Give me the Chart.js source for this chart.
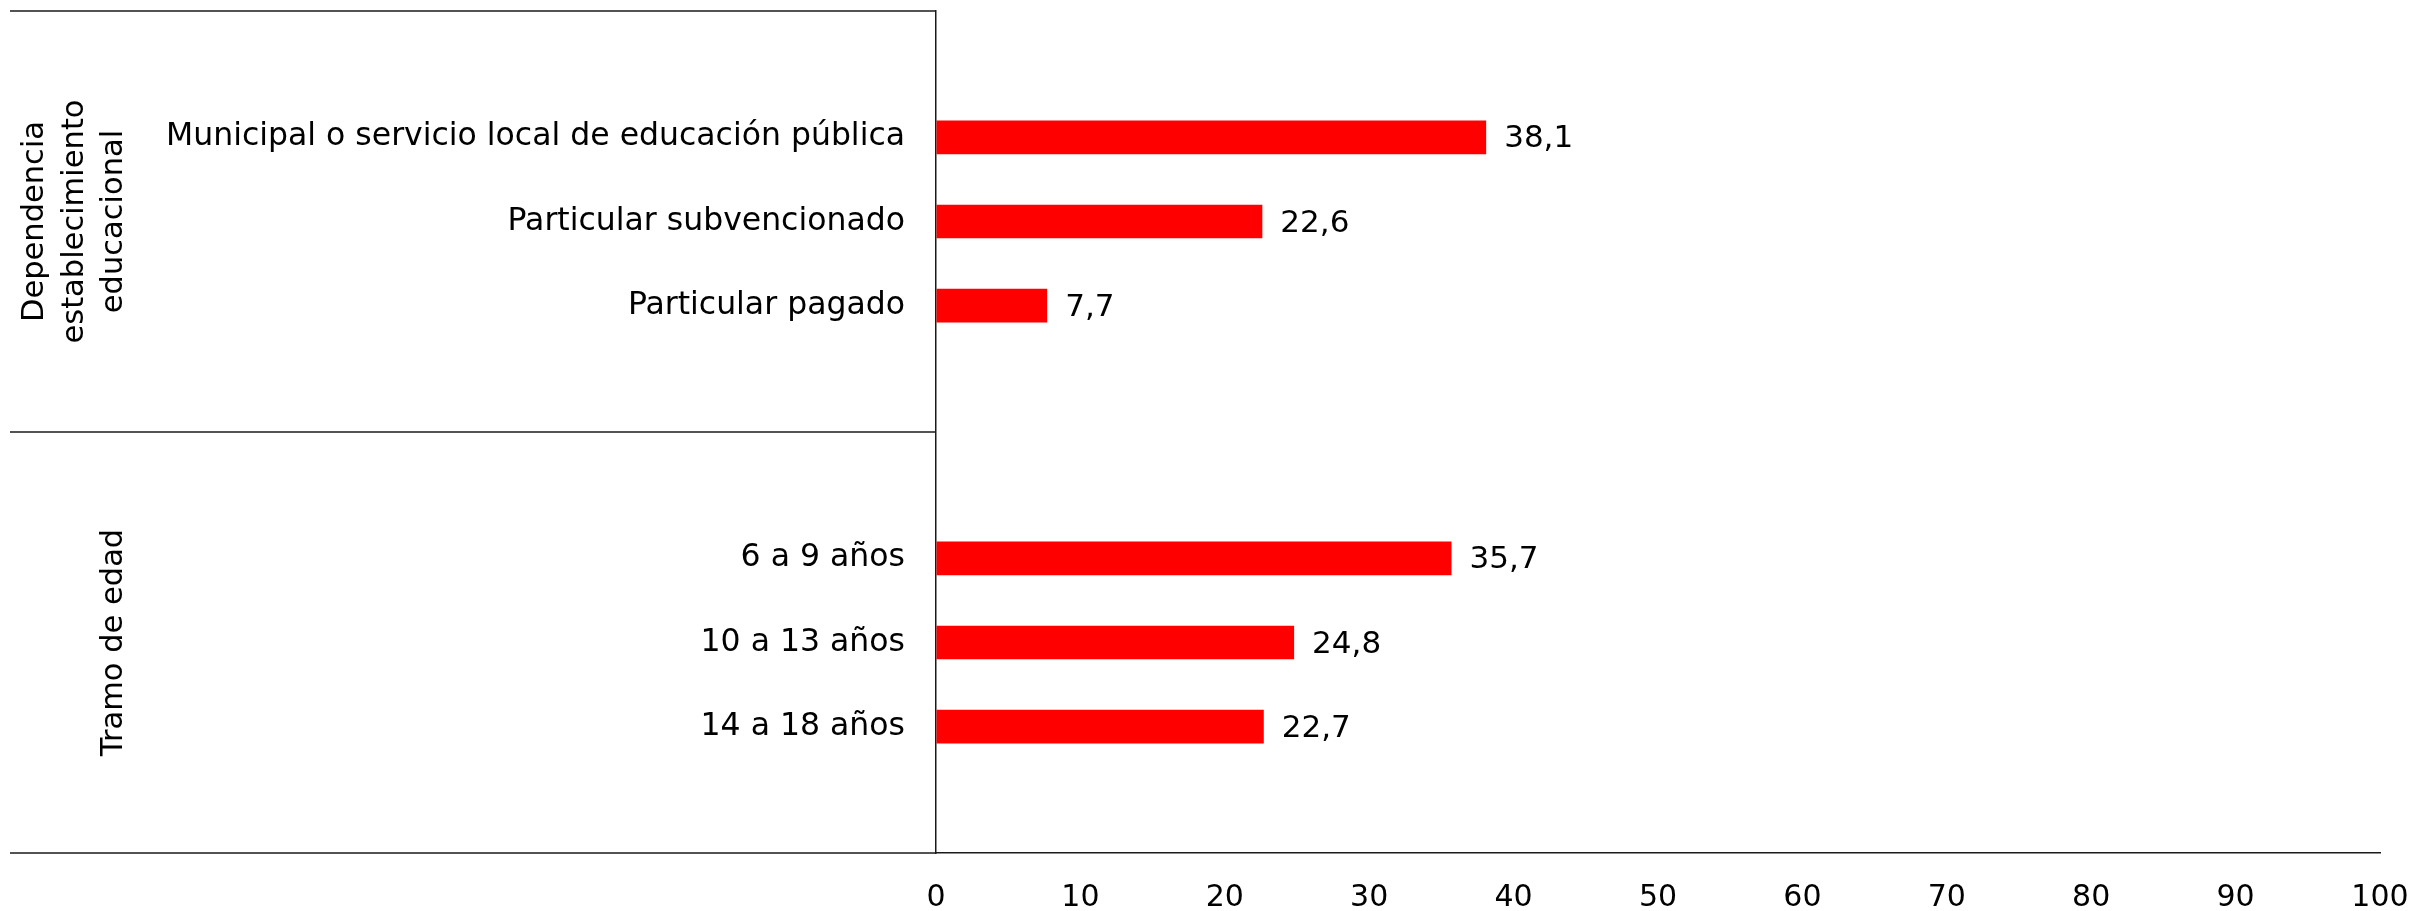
<!DOCTYPE html>
<html>
<head>
<meta charset="utf-8">
<script src="https://cdn.jsdelivr.net/npm/chart.js@4.4.1/dist/chart.umd.min.js"></script>
<style>
  html, body { margin: 0; padding: 0; background: #fff; }
  #wrap { width: 2417px; height: 911px; position: relative; }
</style>
</head>
<body>
<div id="wrap"><canvas id="chart"></canvas></div>
<script>
const groupTitles = [['Dependencia', 'establecimiento', 'educacional'], ['Tramo de edad']];
const dependencia = ['Municipal o servicio local de educación pública', 'Particular subvencionado', 'Particular pagado'];
const dependenciaValues = [38.1, 22.6, 7.7];
const tramos = ['6 a 9 años', '10 a 13 años', '14 a 18 años'];
const tramoValues = [35.7, 24.8, 22.7];
const xTicks = [0, 10, 20, 30, 40, 50, 60, 70, 80, 90, 100];

// every group gets an empty slot above and below its bars
const labels = ['', ...dependencia, '', '', ...tramos, ''];
const values = [null, ...dependenciaValues, null, null, ...tramoValues, null];

const FONT = '"DejaVu Sans", Verdana, sans-serif';
const LINE = '#1a1a1a';

const decor = {
  id: 'decor',
  afterDraw(chart) {
    const { ctx, chartArea, scales: { y } } = chart;
    const edges = [
      chartArea.top,
      (y.getPixelForValue(4) + y.getPixelForValue(5)) / 2,
      chartArea.bottom
    ];
    ctx.save();
    ctx.strokeStyle = LINE;
    ctx.lineWidth = 1.5;
    edges.forEach(e => {
      ctx.beginPath();
      ctx.moveTo(10, e);
      ctx.lineTo(chartArea.left, e);
      ctx.stroke();
    });

    // rotated group titles
    ctx.fillStyle = '#000';
    ctx.font = '30.5px ' + FONT;
    ctx.textAlign = 'center';
    ctx.textBaseline = 'alphabetic';
    groupTitles.forEach((lines, g) => {
      const mid = (edges[g] + edges[g + 1]) / 2;
      lines.forEach((line, i) => {
        const x = 122 - (lines.length - 1 - i) * 39.5;
        ctx.save();
        ctx.translate(x, mid);
        ctx.rotate(-Math.PI / 2);
        ctx.fillText(line, 0, 0);
        ctx.restore();
      });
    });

    // value labels
    ctx.font = '31px ' + FONT;
    ctx.textAlign = 'left';
    ctx.textBaseline = 'middle';
    chart.getDatasetMeta(0).data.forEach((bar, i) => {
      const v = values[i];
      if (v == null) return;
      ctx.fillText(v.toFixed(1).replace('.', ','), bar.x + 18, bar.y + 2);
    });
    ctx.restore();
  }
};

new Chart(document.getElementById('chart'), {
  type: 'bar',
  data: {
    labels: labels,
    datasets: [{
      data: values,
      backgroundColor: '#ff0000',
      borderWidth: 0,
      categoryPercentage: 1,
      barPercentage: 0.4
    }]
  },
  options: {
    indexAxis: 'y',
    responsive: true,
    maintainAspectRatio: false,
    animation: false,
    devicePixelRatio: 1,
    layout: { padding: { top: 11, right: 37, left: 0, bottom: 0 } },
    plugins: { legend: { display: false }, tooltip: { enabled: false } },
    scales: {
      x: {
        min: 0,
        max: 100,
        afterBuildTicks: (scale) => { scale.ticks = xTicks.map(v => ({ value: v })); },
        afterFit: (scale) => {
          scale.height = 58;
          scale.paddingLeft = 0;
          scale.paddingRight = 0;
        },
        ticks: {
          font: { family: FONT, size: 30 },
          color: '#000',
          padding: 27,
          maxRotation: 0,
          autoSkip: false
        },
        grid: { drawOnChartArea: false, drawTicks: false },
        border: { display: true, color: LINE, width: 1.5 }
      },
      y: {
        afterFit: (scale) => {
          scale.width = 936;
          scale.paddingTop = 0;
          scale.paddingBottom = 0;
        },
        ticks: {
          font: { family: FONT, size: 31.5 },
          color: '#000',
          padding: 31,
          autoSkip: false
        },
        grid: { drawOnChartArea: false, drawTicks: false },
        border: { display: true, color: LINE, width: 1.5 }
      }
    }
  },
  plugins: [decor]
});
</script>
</body>
</html>
